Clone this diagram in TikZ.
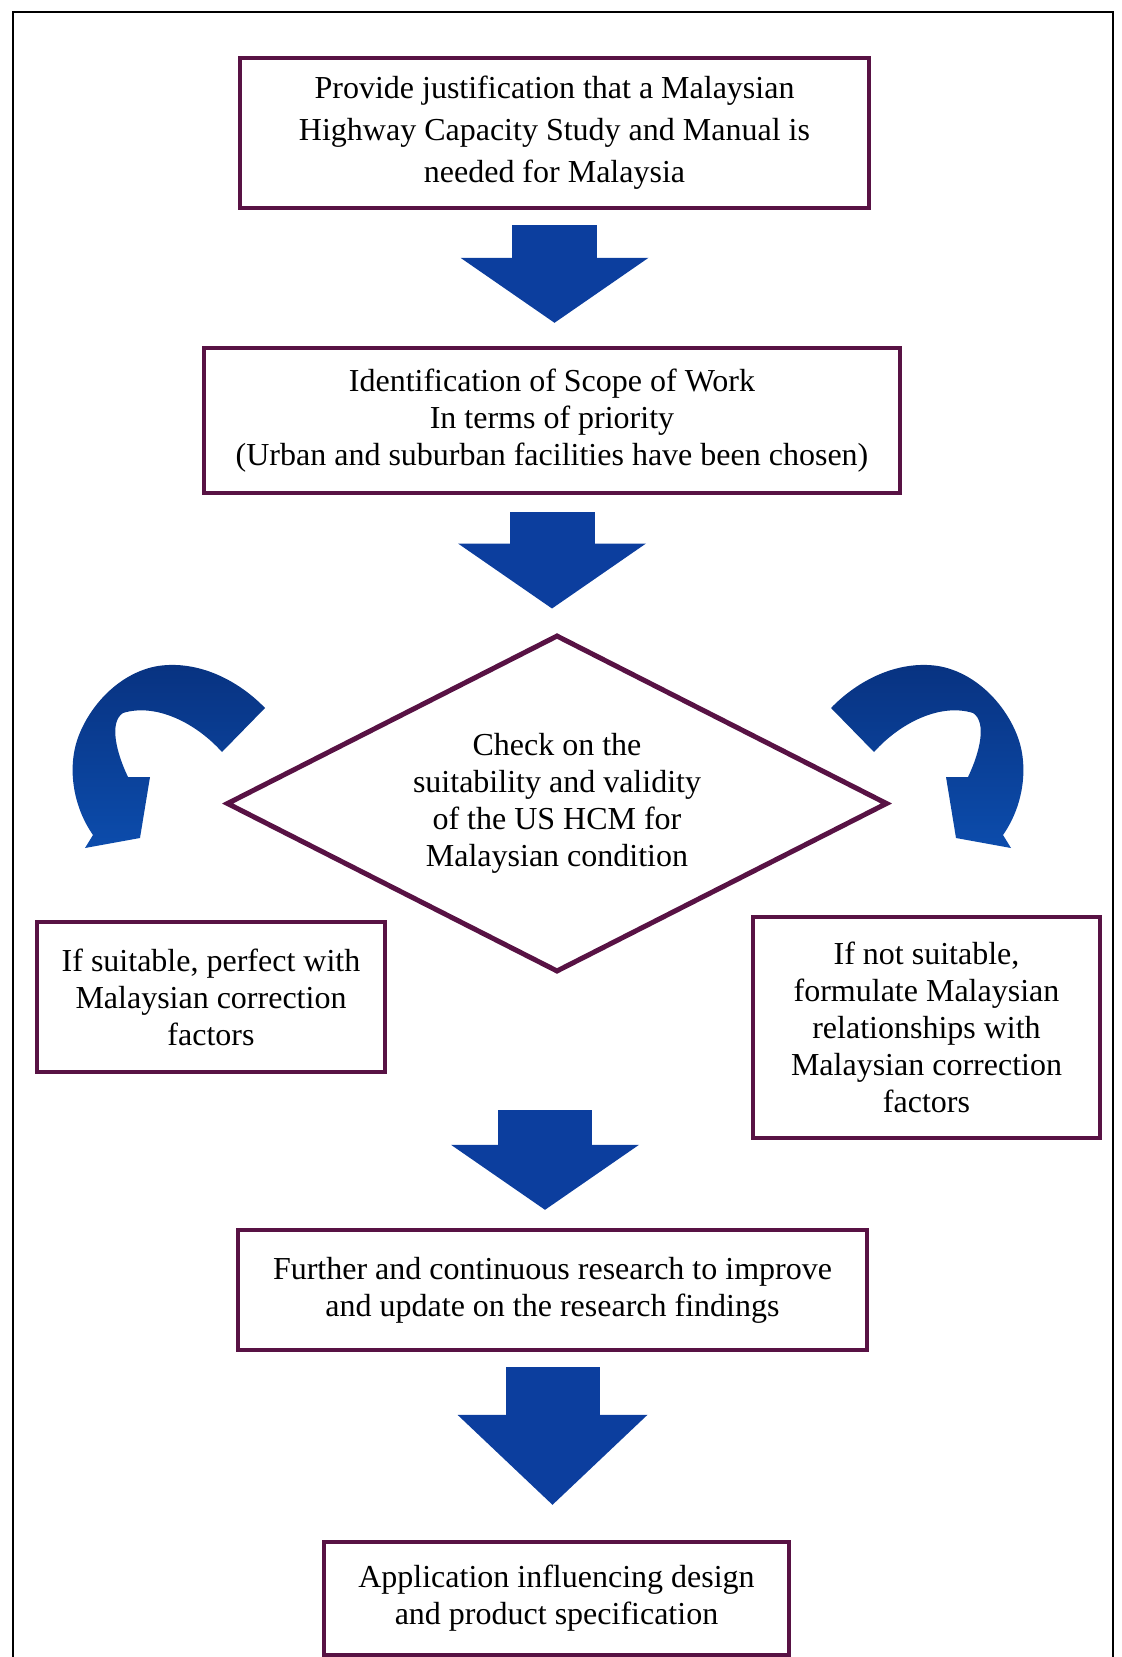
\documentclass[tikz,border=0pt]{standalone}
\usepackage{fontspec}
\setmainfont{Liberation Serif}
\usetikzlibrary{calc,shapes.geometric,arrows.meta}
\definecolor{boxpurple}{RGB}{88,18,68}
\definecolor{arrowblue}{RGB}{12,62,158}
\definecolor{curvetop}{RGB}{8,50,128}
\definecolor{curvebottom}{RGB}{12,76,172}
\tikzset{
  stepbox/.style={draw=boxpurple, line width=2.2pt, rectangle, align=center, inner sep=0pt, font=\fontsize{16}{18.5}\selectfont},
  checkbox/.style={draw=boxpurple, line width=2.5pt, diamond, aspect=2, align=center, inner sep=0pt, font=\fontsize{16}{18.5}\selectfont},
  downarrow/.style={draw=arrowblue, line width=42.5pt, -{Triangle[length=32.5pt,width=94pt,line width=0pt]}},
}
\begin{document}
\begin{tikzpicture}[x=0.5pt,y=-0.5pt]
  \useasboundingbox (0,0) rectangle (1122,1657);
  % page frame, open at the bottom
  \draw[line width=1pt] (13,1670) -- (13,12) -- (1113,12) -- (1113,1670);

  \node[stepbox, minimum width=314.5pt, minimum height=75pt, font=\fontsize{16}{21}\selectfont] (justify) at (554.5,133) {Provide justification that a Malaysian\\Highway Capacity Study and Manual is\\needed for Malaysia};
  \node[stepbox, minimum width=348pt, minimum height=72.5pt] (scope) at (552,420.5) {Identification of Scope of Work\\In terms of priority\\(Urban and suburban facilities have been chosen)};
  \node[checkbox, minimum width=330.5pt, minimum height=168.5pt] (check) at (557,803.5) {Check on the\\suitability and validity\\of the US HCM for\\Malaysian condition};
  \node[stepbox, minimum width=174pt, minimum height=75pt] (suitable) at (211,997) {If suitable, perfect with\\Malaysian correction\\factors};
  \node[stepbox, minimum width=173.5pt, minimum height=110.5pt] (notsuitable) at (926.5,1027.5) {If not suitable,\\formulate Malaysian\\relationships with\\Malaysian correction\\factors};
  \node[stepbox, minimum width=314.5pt, minimum height=60pt] (further) at (552.5,1290) {Further and continuous research to improve\\and update on the research findings};
  \node[stepbox, minimum width=232.5pt, minimum height=56.5pt] (apply) at (556.5,1598.5) {Application influencing design\\and product specification};

  % block arrows
  \draw[downarrow] ($(justify.south)+(0,15)$) -- ($(justify.south |- scope.north)+(0,-23)$);
  \draw[downarrow] ($(scope.south)+(0,17)$) -- ($(scope.south |- check.north)+(0,-24)$);
  \coordinate (merge) at (545,1110);
  \draw[downarrow, line width=47pt] (merge) -- ($(merge |- further.north)+(0,-18)$);
  \draw[downarrow, line width=47pt, -{Triangle[length=45pt,width=95pt,line width=0pt]}] ($(further.south)+(0,15)$) -- ($(further.south |- apply.north)+(0,-35)$);

  % curved arrows beside the diamond
  \foreach \flip/\shift in {1/0pt,-1/548pt}
    \shade[top color=curvetop, bottom color=curvebottom, xshift=\shift, xscale=\flip] (265,708)
      .. controls (238,680) and (198,660) .. (158,666)
      .. controls (122,672) and (92,702) .. (79,735)
      .. controls (67,765) and (72,805) .. (93,835)
      -- (85,848) -- (140,838) -- (150,777) -- (128,777)
      .. controls (116,752) and (109,722) .. (123,713)
      .. controls (155,703) and (195,722) .. (222,752)
      -- cycle;
\end{tikzpicture}
\end{document}
